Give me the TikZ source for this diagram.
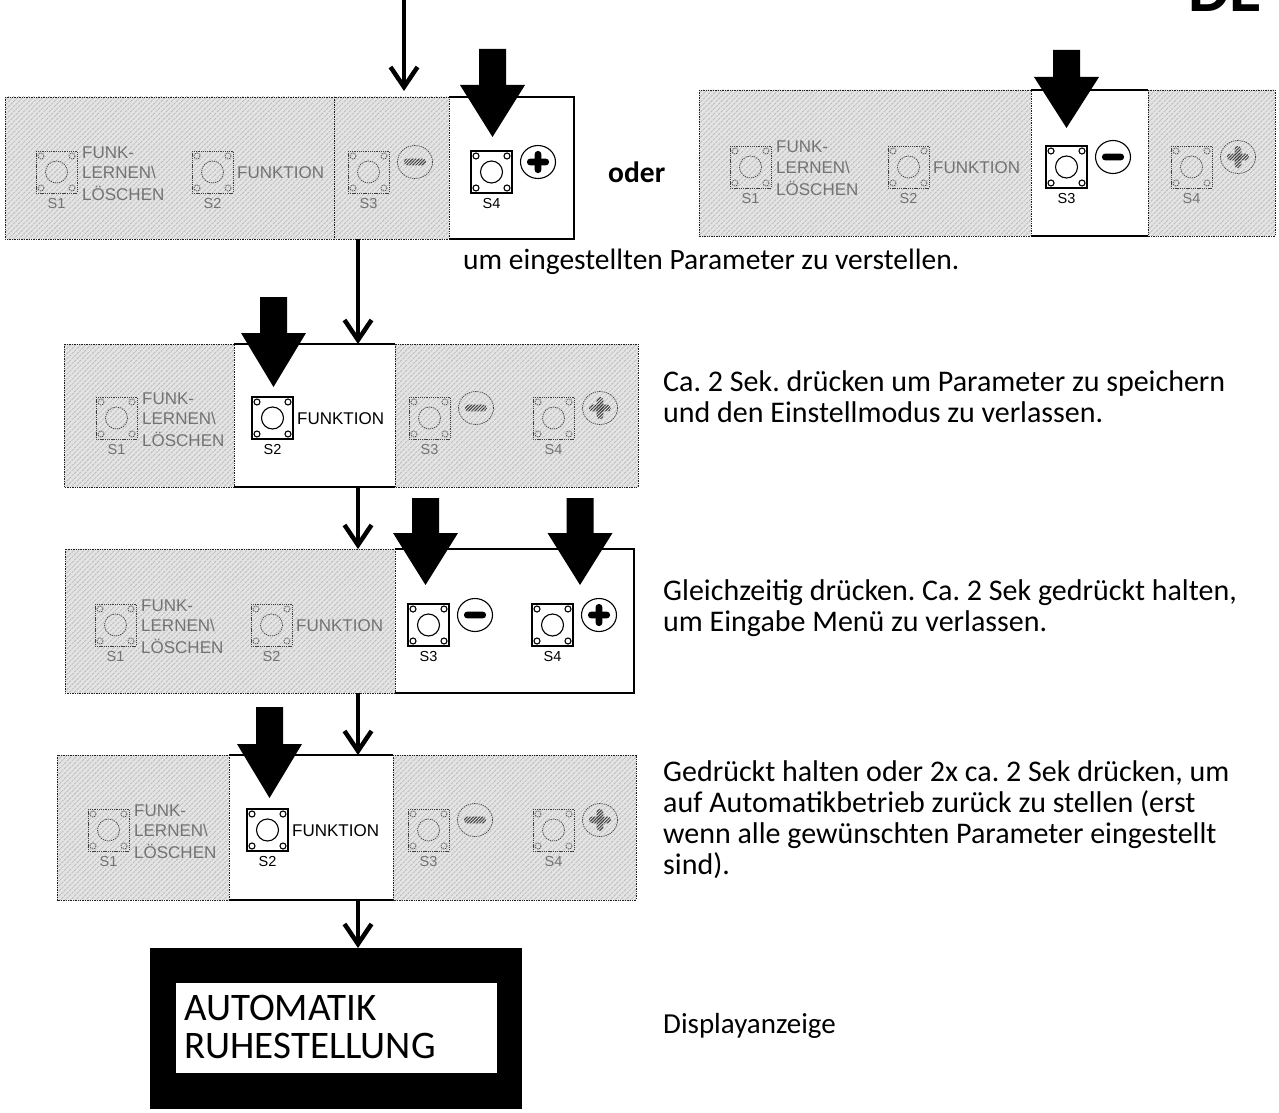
\documentclass[tikz,border=0pt]{standalone}
\usepackage{fontspec}
\setmainfont{Carlito}
\newfontfamily\arialf{Liberation Sans}
\usetikzlibrary{arrows.meta,patterns.meta}
\frenchspacing

\tikzset{
  hatchsec/.style={preaction={fill=gray!21}, pattern={Lines[angle=45,distance=3.6pt,line width=0.9pt]}, pattern color=gray!52, draw=gray!25!black, line width=0.8pt, dash pattern=on 1.4pt off 1pt},
  whiteedge/.style={draw=black, line width=1.3pt},
  pnl/.style={draw=none, inner sep=0pt, anchor=north west},
  act/.style={draw=black, line width=1.1pt},
  inact/.style={draw=gray!50!black, line width=0.7pt, dash pattern=on 1.3pt off 0.9pt},
  acttxt/.style={text=black},
  inacttxt/.style={text=black!55},
  actbar/.style={fill=black},
  inactbar/.style={pattern={Lines[angle=45,distance=2.2pt,line width=1pt]}, pattern color=black!75},
  swlbl/.style={font=\arialf\fontsize{17}{17}\selectfont, inner sep=0pt, anchor=base west},
  snum/.style={font=\arialf\fontsize{14.5}{14.5}\selectfont, inner sep=0pt, anchor=base},
  flow/.style={line width=4.5pt, -{Straight Barb[length=20pt,width=27pt]}},
  bodytxt/.style={font=\fontsize{30}{31}\selectfont, inner sep=0pt, anchor=base west},
}

\newcommand\pbtn[5]{%
  \begin{scope}[shift={(#1,#2)}]
    \draw[#3] (0,0) rectangle (41,42);
    \draw[#3] (20.5,21) circle[radius=11];
    \foreach \cx/\cy in {5/5,36/5,5/37,36/37}{\draw[#3] (\cx,\cy) circle[radius=3];}
    \node[snum,#3txt] (#5) at (20.5,57) {#4};
  \end{scope}}
\newcommand\funk[4]{%
  \node[swlbl,#3txt] (#4a) at (#1+46,#2+7) {FUNK-};
  \node[swlbl,#3txt] (#4b) at (#1+46,#2+27) {LERNEN\textbackslash};
  \node[swlbl,#3txt] (#4c) at (#1+46,#2+49) {LÖSCHEN};}
\newcommand\fkt[4]{%
  \node[swlbl,#3txt] (#4) at (#1+45,#2+27) {FUNKTION};}
\newcommand\symminus[3]{%
  \begin{scope}[shift={(#1+67,#2+11)}]
    \draw[#3] (0,0) ellipse[x radius=17.5, y radius=16.5];
    \path[#3bar, rounded corners=3pt] (-11,-3.3) rectangle (11,3.3);
  \end{scope}}
\newcommand\symplus[3]{%
  \begin{scope}[shift={(#1+67,#2+11)}]
    \draw[#3] (0,0) ellipse[x radius=17.5, y radius=16.5];
    \path[#3bar, rounded corners=3pt] (-11,-3.3) rectangle (11,3.3);
    \path[#3bar, rounded corners=3pt] (-3.3,-11) rectangle (3.3,11);
  \end{scope}}
\newcommand\bigarr[4]{%
  \fill (#1-13.5,#2) -- (#1+13.5,#2) -- (#1+13.5,#3) -- (#1+32.5,#3) -- (#1,#4) -- (#1-32.5,#3) -- (#1-13.5,#3) -- cycle;}

\begin{document}
\begin{tikzpicture}[x=1pt,y=-1pt]
\useasboundingbox (0,0) rectangle (1279,1113);

% DE (cut off at the top edge, as in the reference)
\node[anchor=base west, inner sep=0pt, font=\fontsize{66}{66}\selectfont\bfseries] (de) at (1188,12) {DE};

% ---------- Panel 1
\node[pnl, minimum width=569pt, minimum height=142pt] (p1) at (5,97) {};
\path[hatchsec] (5,97) rectangle (334,239);
\path[hatchsec] (334,97) rectangle (449,239);
\draw[whiteedge] (449,97) -- (574,97) -- (574,239) -- (449,239);
\pbtn{36}{151}{inact}{S1}{p1s1}\funk{36}{151}{inact}{p1f}
\pbtn{192}{151}{inact}{S2}{p1s2}\fkt{192}{151}{inact}{p1k}
\pbtn{348}{151}{inact}{S3}{p1s3}\symminus{348}{151}{inact}
\pbtn{471}{151}{act}{S4}{p1s4}\symplus{471}{151}{act}
\bigarr{492.5}{49}{85}{137}

\node[bodytxt, font=\fontsize{29.5}{31}\selectfont\bfseries] (oder) at (608,182) {oder};

% ---------- Right panel
\node[pnl, minimum width=576pt, minimum height=146pt] (pr) at (699,90) {};
\path[hatchsec] (699,90) rectangle (1031,236);
\path[hatchsec] (1148,90) rectangle (1275,236);
\draw[whiteedge] (1031,90) -- (1148,90);
\draw[whiteedge] (1031,236) -- (1148,236);
\pbtn{730}{146}{inact}{S1}{prs1}\funk{730}{146}{inact}{prf}
\pbtn{888}{146}{inact}{S2}{prs2}\fkt{888}{146}{inact}{prk}
\pbtn{1046}{146}{act}{S3}{prs3}\symminus{1046}{146}{act}
\pbtn{1171}{146}{inact}{S4}{prs4}\symplus{1171}{146}{inact}
\bigarr{1066.5}{50}{77}{128}

\node[bodytxt, font=\fontsize{29.5}{31}\selectfont] (t1) at (463,269) {um eingestellten Parameter zu verstellen.};

% ---------- Panel 2
\node[pnl, minimum width=574pt, minimum height=143pt] (p2) at (64,344) {};
\path[hatchsec] (64,344) rectangle (234,487);
\path[hatchsec] (395,344) rectangle (638,487);
\draw[whiteedge] (234,344) -- (395,344);
\draw[whiteedge] (234,487) -- (395,487);
\pbtn{96}{397}{inact}{S1}{p2s1}\funk{96}{397}{inact}{p2f}
\pbtn{252}{397}{act}{S2}{p2s2}\fkt{252}{397}{act}{p2k}
\pbtn{409}{397}{inact}{S3}{p2s3}\symminus{409}{397}{inact}
\pbtn{533}{397}{inact}{S4}{p2s4}\symplus{533}{397}{inact}
\bigarr{273.5}{297}{333}{387}

\node[bodytxt] (t2a) at (663,391) {Ca. 2 Sek. drücken um Parameter zu speichern};
\node[bodytxt] (t2b) at (663,422) {und den Einstellmodus zu verlassen.};

% ---------- Panel 3
\node[pnl, minimum width=569pt, minimum height=144pt] (p3) at (65,549) {};
\path[hatchsec] (65,549) rectangle (395,693);
\draw[whiteedge] (395,549) -- (634,549) -- (634,693) -- (395,693);
\pbtn{95}{604}{inact}{S1}{p3s1}\funk{95}{604}{inact}{p3f}
\pbtn{251}{604}{inact}{S2}{p3s2}\fkt{251}{604}{inact}{p3k}
\pbtn{408}{604}{act}{S3}{p3s3}\symminus{408}{604}{act}
\pbtn{532}{604}{act}{S4}{p3s4}\symplus{532}{604}{act}
\bigarr{425.5}{498}{533}{585}
\bigarr{580}{498}{533}{585}

\node[bodytxt] (t3a) at (663,600) {Gleichzeitig drücken. Ca. 2 Sek gedrückt halten,};
\node[bodytxt] (t3b) at (663,631) {um Eingabe Menü zu verlassen.};

% ---------- Panel 4
\node[pnl, minimum width=579pt, minimum height=145pt] (p4) at (57,755) {};
\path[hatchsec] (57,755) rectangle (229,900);
\path[hatchsec] (393,755) rectangle (636,900);
\draw[whiteedge] (229,755) -- (393,755);
\draw[whiteedge] (229,900) -- (393,900);
\pbtn{88}{809}{inact}{S1}{p4s1}\funk{88}{809}{inact}{p4f}
\pbtn{247}{809}{act}{S2}{p4s2}\fkt{247}{809}{act}{p4k}
\pbtn{408}{809}{inact}{S3}{p4s3}\symminus{408}{809}{inact}
\pbtn{533}{809}{inact}{S4}{p4s4}\symplus{533}{809}{inact}
\bigarr{269.5}{707}{744}{798}

\node[bodytxt] (t4a) at (663,781) {Gedrückt halten oder 2x ca. 2 Sek drücken, um};
\node[bodytxt] (t4b) at (663,812) {auf Automatikbetrieb zurück zu stellen (erst};
\node[bodytxt] (t4c) at (663,843) {wenn alle gewünschten Parameter eingestellt};
\node[bodytxt] (t4d) at (663,874) {sind).};

% ---------- Display
\node[fill=black, minimum width=372pt, minimum height=161pt, inner sep=0pt, anchor=north west] (disp) at (150,948) {};
\node[fill=white, minimum width=321pt, minimum height=90pt, inner sep=0pt, anchor=north west] (dispin) at (176,983) {};
\node[anchor=base west, inner sep=0pt, font=\fontsize{39}{39}\selectfont] (d1) at (184,1020) {AUTOMATIK};
\node[anchor=base west, inner sep=0pt, font=\fontsize{39}{39}\selectfont] (d2) at (184,1058) {RUHESTELLUNG};
\node[bodytxt, font=\fontsize{29}{31}\selectfont] (t5) at (663,1033) {Displayanzeige};

% ---------- Connectors
\coordinate (topin) at (404,0);
\coordinate (cx) at (358,0);
\draw[flow, shorten >=6pt] (topin) -- (topin |- p1.north);
\draw[flow] (p1.south -| cx) -- (p2.north -| cx);
\draw[flow] (p2.south -| cx) -- (p3.north -| cx);
\draw[flow] (p3.south -| cx) -- (p4.north -| cx);
\draw[flow] (p4.south -| cx) -- (disp.north -| cx);
\end{tikzpicture}
\end{document}
